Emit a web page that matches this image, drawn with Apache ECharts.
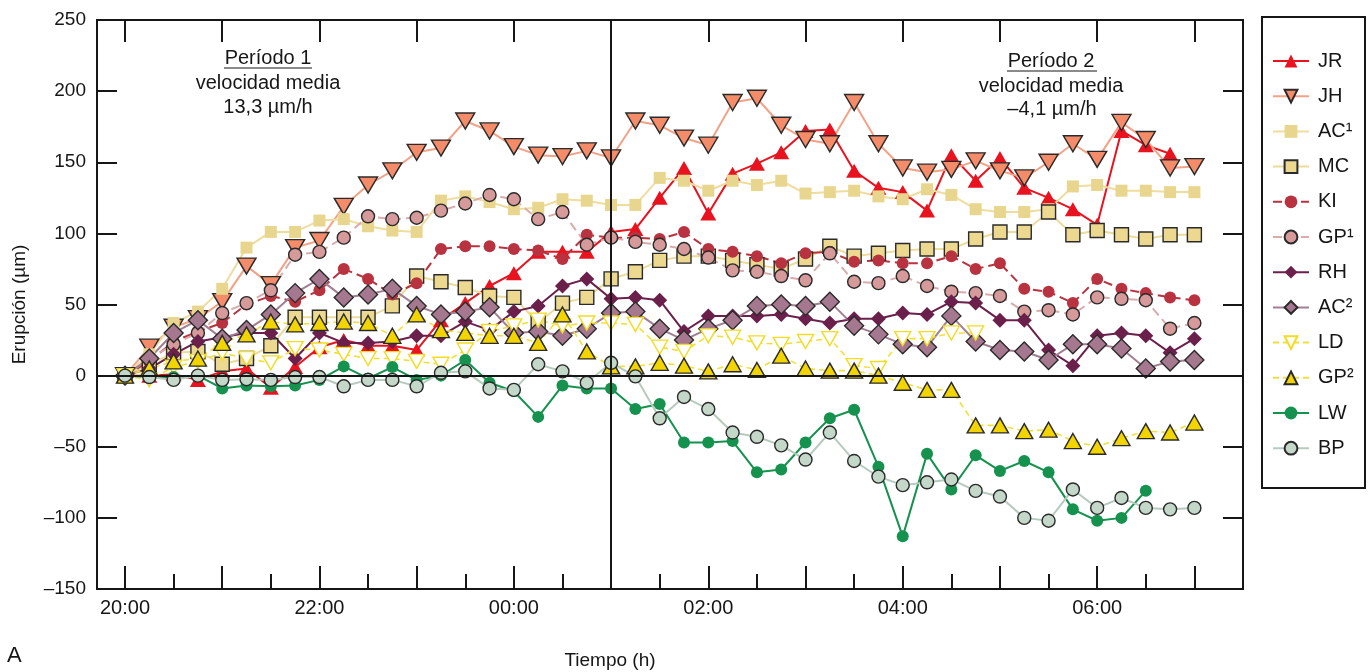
<!DOCTYPE html>
<html>
<head>
<meta charset="utf-8">
<script src="https://cdn.jsdelivr.net/npm/echarts@6/dist/echarts.min.js"></script>
<style>
  html, body { margin: 0; padding: 0; background: #fff; }
  #chart { width: 1370px; height: 672px; }
</style>
</head>
<body>
<div id="chart"></div>
<script>
// Hours after 20:00; one reading every 15 minutes
const STEP_H = 0.25;
const hourTicks = [0, 1, 2, 3, 4, 5, 6, 7, 8, 9, 10, 11];
const halfHourTicks = [0.5, 1.5, 2.5, 3.5, 4.5, 5.5, 6.5, 7.5, 8.5, 9.5, 10.5];
const labelHours = [0, 2, 4, 6, 8, 10];

// Eruption (µm) per subject
const JR  = [0, 0, 1, -3, 3, 5, -8.5, 6, 20, 25, 21, 21, 18, 39, 51, 63, 72, 87, 87, 87, 101, 103, 125, 146, 114, 142, 149, 157, 172, 173, 144, 132, 129, 116, 155, 137, 153, 132, 125, 117, 106, 172, 162, 156];
const JH  = [0, 20, 34, 40, 52, 77, 64, 90, 95, 119, 134, 144, 157, 160, 179, 172, 161, 155, 154, 158, 153, 179, 176, 167, 162, 192, 195, 176, 166, 163, 192, 163, 146, 143, 145, 151, 144, 139, 150, 163, 152, 178, 166, 146, 147];
const AC1 = [0, 15, 37, 45, 61, 90, 101, 101, 109, 110, 105, 102, 101, 123, 126, 122, 117, 118, 124, 123, 120, 120, 139, 137, 130, 137, 134, 137, 128, 129, 130, 126, 124, 131, 127, 117, 115, 115, 117, 133, 134, 130, 130, 129, 129];
const MC  = [0, 8, 16, 17, 8, 12, 21, 41, 41, 41, 41, 49, 70, 66, 62, 56, 55, 37, 51, 55, 68, 73, 81, 84, 84, 81, 78, 75, 82, 91, 84, 86, 88, 89, 89, 96, 101, 101, 115, 99, 102, 99, 96, 99, 99];
const KI  = [0, 10, 24, 31, 37, 50, 56, 52, 60, 75, 68, 57, 65, 89, 91, 91, 89, 88, 82, 99, 97, 97, 96, 101, 89, 87, 84, 79, 86, 87, 80, 81, 79, 79, 84, 75, 79, 61, 59, 51, 68, 61, 58, 55, 53];
const GP1 = [0, 12, 22, 30, 44, 51, 60, 85, 87, 97, 112, 110, 111, 116, 121, 127, 124, 110, 115, 92, 97, 94, 92, 89, 83, 74, 73, 70, 67, 86, 66, 65, 70, 63, 59, 58, 56, 45, 46, 43, 55, 54, 53, 33, 37];
const RH  = [0, 5, 15, 24, 27, 30, 30, 12, 30, 23, 23, 24, 28, 28, 38, 32, 45, 49, 63, 68, 54, 55, 53, 31, 42, 42, 42, 43, 40, 37, 40, 40, 44, 43, 52, 51, 39, 39, 18, 7, 28, 30, 28, 16, 26];
const AC2 = [0, 12, 30, 39, 26, 32, 43, 58, 68, 55, 57, 61, 49, 43, 45, 48, 30, 31, 28, 33, 44, 45, 33, 25, 33, 39, 49, 50, 49, 52, 35, 29, 22, 20, 42, 24, 18, 17, 11, 22, 22, 19, 5, 10, 11];
const LD  = [0, -3, 6, 10, 16, 12, 9, 19, 18, 15, 12, 12, 10, 8, 18, 31, 35, 39, 35, 37, 37, 36, 20, 17, 28, 27, 23, 22, 24, 26, 7, 5, 26, 26, 30, 30];
const GP2 = [0, 5, 10, 12, 23, 29, 38, 36, 37, 38, 37, 28, 43, 32, 30, 28, 28, 23, 43, 17, 6.5, 6.5, 9, 7, 3, 8, 4, 14, 5, 3.5, 3.5, 0, -5, -10, -10, -35, -35, -39, -38, -46, -50, -44, -39, -40, -33];
const LW  = [0, -1, -1, 0, -9, -7, -7.5, -7, -3, 6.5, -2, 6, -3, 0, 11, -5, -11, -29, -7, -9, -9, -23.5, -20, -47, -47, -46, -68, -66, -47, -30, -24, -64, -113, -55, -80, -56, -67, -60, -68, -94, -102, -100, -81];
const BP  = [0, -1, -3, 0, -3, -2.5, -3, -1, -1, -7.5, -3, -3, -7.5, 2, 3, -9, -10, 8, 3, -5, 9, -0.5, -30, -15, -23.5, -40, -43, -49, -59, -40, -60, -71, -77, -75, -73, -81, -85, -100, -102, -80, -93, -86, -93, -94, -93];

const FONT = 'Liberation Sans, Arial, Helvetica, sans-serif';
const INK = '#161616';

function toPoints(values) {
  return values.map((v, i) => [i * STEP_H, v]);
}

function hourLabel(h) {
  const hh = (20 + Math.round(h)) % 24;
  return (hh < 10 ? '0' : '') + hh + ':00';
}

function makeSeries(name, values, s) {
  return {
    name: name,
    type: 'line',
    data: toPoints(values),
    symbol: s.symbol,
    symbolSize: s.size,
    symbolRotate: s.rotate || 0,
    z: 3,
    lineStyle: { color: s.line, width: s.width || 2, type: s.dash || 'solid' },
    itemStyle: {
      color: s.fill,
      borderColor: s.border || s.fill,
      borderWidth: s.border ? 1.4 : 0
    },
    emphasis: { disabled: true },
    animation: false
  };
}

const series = [
  makeSeries('JR',  JR,  { symbol: 'triangle', size: [16, 14], fill: '#e8131f', line: '#e8131f' }),
  makeSeries('JH',  JH,  { symbol: 'triangle', size: [19, 16], rotate: 180, fill: '#f48c6a', border: '#2a2a2a', line: '#f2a286' }),
  makeSeries('AC¹', AC1, { symbol: 'rect', size: 12, fill: '#e9d68e', line: '#eedd9f' }),
  makeSeries('MC',  MC,  { symbol: 'rect', size: 14, fill: '#ecd98f', border: '#2a2a2a', line: '#eadc9c' }),
  makeSeries('KI',  KI,  { symbol: 'circle', size: 12, fill: '#b8323f', line: '#b8323f', dash: [9, 5] }),
  makeSeries('GP¹', GP1, { symbol: 'circle', size: 13, fill: '#d79a9a', border: '#2a2a2a', line: '#d9abab', dash: [9, 5] }),
  makeSeries('RH',  RH,  { symbol: 'diamond', size: 15, fill: '#6b1f4b', line: '#6b1f4b' }),
  makeSeries('AC²', AC2, { symbol: 'diamond', size: 19, fill: '#a6788f', border: '#2a2a2a', line: '#a27e92' }),
  makeSeries('LD',  LD,  { symbol: 'triangle', size: [16, 14], rotate: 180, fill: '#ffffff', border: '#f2dc24', line: '#f2e03a', dash: [6, 4], width: 1.6 }),
  makeSeries('GP²', GP2, { symbol: 'triangle', size: [17, 15], fill: '#f2d400', border: '#2a2a2a', line: '#f2e03a', dash: [6, 4], width: 1.6 }),
  makeSeries('LW',  LW,  { symbol: 'circle', size: 12, fill: '#15924e', line: '#15924e' }),
  makeSeries('BP',  BP,  { symbol: 'circle', size: 13, fill: '#c3d8c8', border: '#2a2a2a', line: '#b5cbbd' })
];

// Reference lines: zero eruption and the split between the two periods (01:00)
series.push({
  type: 'line',
  data: [],
  z: 2,
  silent: true,
  markLine: {
    silent: true,
    symbol: 'none',
    animation: false,
    label: { show: false },
    lineStyle: { color: INK, width: 2, type: 'solid' },
    data: [{ yAxis: 0 }, { xAxis: 5 }]
  }
});

const X_MIN = -0.288, X_MAX = 11.5;

const option = {
  backgroundColor: '#ffffff',
  animation: false,
  textStyle: { fontFamily: FONT, color: INK },
  grid: {
    left: 97, top: 20, width: 1146, height: 569,
    show: true, borderColor: INK, borderWidth: 2, backgroundColor: 'transparent'
  },
  xAxis: [
    {
      type: 'value', min: X_MIN, max: X_MAX, position: 'bottom',
      axisLine: { show: true, onZero: false, lineStyle: { color: INK, width: 2 } },
      axisTick: { show: true, inside: true, length: 23, customValues: hourTicks, lineStyle: { color: INK, width: 2 } },
      axisLabel: { show: true, customValues: labelHours, formatter: hourLabel, fontSize: 20, color: INK, margin: 9, fontFamily: FONT },
      splitLine: { show: false }
    },
    {
      type: 'value', min: X_MIN, max: X_MAX, position: 'bottom',
      axisLine: { show: false, onZero: false },
      axisTick: { show: true, inside: true, length: 15, customValues: halfHourTicks, lineStyle: { color: INK, width: 2 } },
      axisLabel: { show: false },
      splitLine: { show: false }
    },
    {
      type: 'value', min: X_MIN, max: X_MAX, position: 'top',
      axisLine: { show: false, onZero: false },
      axisTick: { show: true, inside: true, length: 22, customValues: hourTicks, lineStyle: { color: INK, width: 2 } },
      axisLabel: { show: false },
      splitLine: { show: false }
    }
  ],
  yAxis: [
    {
      type: 'value', min: -150, max: 250, interval: 50, position: 'left',
      name: 'Erupción (µm)', nameLocation: 'middle', nameGap: 68, nameRotate: 90,
      nameTextStyle: { fontSize: 19, color: INK, fontFamily: FONT },
      axisLine: { show: true, onZero: false, lineStyle: { color: INK, width: 2 } },
      axisTick: { show: true, inside: true, length: 20, lineStyle: { color: INK, width: 2 } },
      axisLabel: {
        fontSize: 19, color: INK, margin: 11, fontFamily: FONT,
        formatter: v => (v < 0 ? '\u2013' + Math.abs(v) : String(v))
      },
      splitLine: { show: false }
    },
    {
      type: 'value', min: -150, max: 250, interval: 50, position: 'right',
      axisLine: { show: true, onZero: false, lineStyle: { color: INK, width: 2 } },
      axisTick: { show: true, inside: true, length: 20, lineStyle: { color: INK, width: 2 } },
      axisLabel: { show: false },
      splitLine: { show: false }
    }
  ],
  legend: {
    orient: 'vertical',
    left: 1267, top: 46,
    itemWidth: 36, itemHeight: 16, itemGap: 15.2,
    selectedMode: false,
    data: series.slice(0, 12).map(s => s.name),
    textStyle: { fontSize: 20, color: INK, fontFamily: FONT, padding: [0, 0, 0, 4] }
  },
  graphic: [
    { type: 'rect', silent: true, shape: { x: 1262, y: 17, width: 103, height: 471 },
      style: { fill: 'none', stroke: INK, lineWidth: 2 } },
    { type: 'text', x: 268, y: 58, silent: true,
      style: { text: 'Período 1', font: '20px ' + FONT, fill: INK, align: 'center', verticalAlign: 'middle' } },
    { type: 'line', silent: true, shape: { x1: 224, y1: 68, x2: 312, y2: 68 }, style: { stroke: INK, lineWidth: 1.2 } },
    { type: 'text', x: 268, y: 83, silent: true,
      style: { text: 'velocidad media', font: '20px ' + FONT, fill: INK, align: 'center', verticalAlign: 'middle' } },
    { type: 'text', x: 268, y: 107, silent: true,
      style: { text: '13,3 µm/h', font: '20px ' + FONT, fill: INK, align: 'center', verticalAlign: 'middle' } },
    { type: 'text', x: 1051, y: 61, silent: true,
      style: { text: 'Período 2', font: '20px ' + FONT, fill: INK, align: 'center', verticalAlign: 'middle' } },
    { type: 'line', silent: true, shape: { x1: 1007, y1: 71, x2: 1097, y2: 71 }, style: { stroke: INK, lineWidth: 1.2 } },
    { type: 'text', x: 1051, y: 86, silent: true,
      style: { text: 'velocidad media', font: '20px ' + FONT, fill: INK, align: 'center', verticalAlign: 'middle' } },
    { type: 'text', x: 1052, y: 109, silent: true,
      style: { text: '\u20134,1 µm/h', font: '20px ' + FONT, fill: INK, align: 'center', verticalAlign: 'middle' } },
    { type: 'text', x: 610, y: 661, silent: true,
      style: { text: 'Tiempo (h)', font: '19px ' + FONT, fill: INK, align: 'center', verticalAlign: 'middle' } },
    { type: 'text', x: 7, y: 656, silent: true,
      style: { text: 'A', font: '22px ' + FONT, fill: INK, align: 'left', verticalAlign: 'middle' } }
  ],
  series: series
};

const chart = echarts.init(document.getElementById('chart'), null, { renderer: 'canvas' });
chart.setOption(option);
</script>
</body>
</html>
